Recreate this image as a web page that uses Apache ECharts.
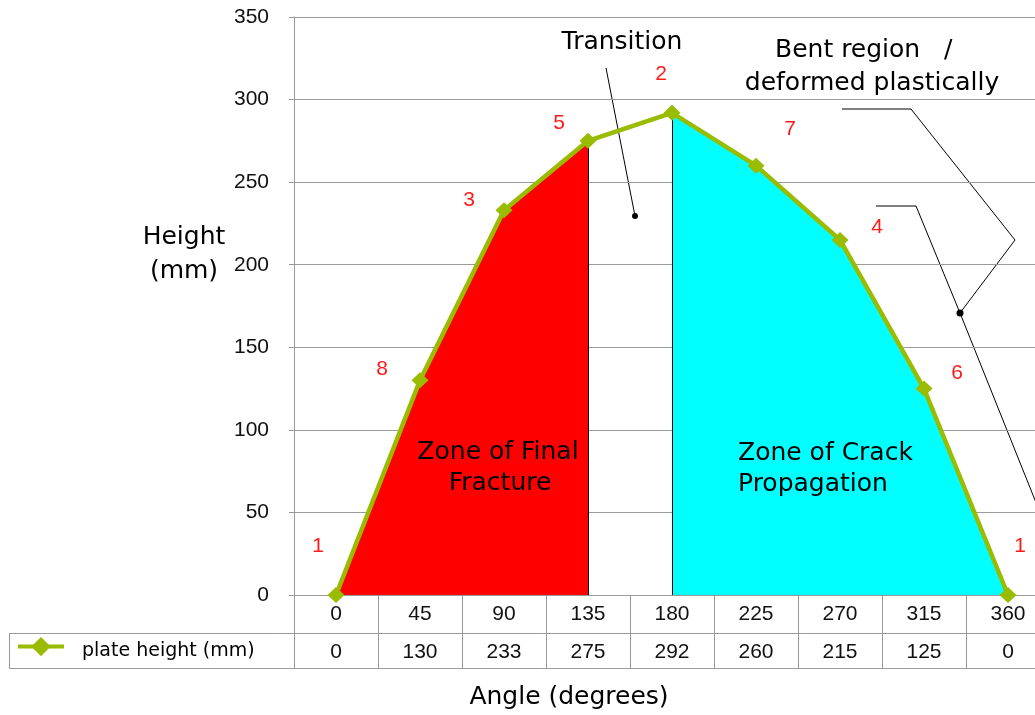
<!DOCTYPE html>
<html>
<head>
<meta charset="utf-8">
<script src="https://cdn.jsdelivr.net/npm/echarts@6/dist/echarts.min.js"></script>
<style>
html,body{margin:0;padding:0;background:#fff;overflow:hidden;width:1035px;height:715px;}
#chart{width:1070px;height:715px;}
</style>
</head>
<body>
<div id="chart"></div>
<script>
// ---- data ----
const angles = ['0','45','90','135','180','225','270','315','360'];
const heights = [0,130,233,275,292,260,215,125,0];
const pointOrder = ['1','8','3','5','2','7','4','6','1'];
const fractureZone = ['0','45','90','135'];
const crackZone = ['180','225','270','315','360'];
const yMin = 0, yMax = 350, yStep = 50;
const seriesName = 'plate height (mm)';

// ---- style ----
const labelOffsets = [[-18,-49],[-38,-11],[-35,-10],[-29,-18],[-11,-39],[34,-36],[37,-13],[33,-15],[12,-49]];
const GREEN = '#99bb00';
const GRID_GRAY = '#9a9a9a';
const NUM_FONT = "'Liberation Sans Narrow', 'Arial Narrow', 'Liberation Sans', sans-serif";
const TXT_FONT = "'DejaVu Sans', Verdana, sans-serif";

const zoneData = zone => angles.map((a, i) => zone.includes(a) ? heights[i] : null);
const fracEnd = fractureZone[fractureZone.length - 1];
const crackStart = crackZone[0];

const chart = echarts.init(document.getElementById('chart'), null, {renderer: 'canvas'});

const txt = (x, y, text, align, z) => ({
  type: 'text', x: x, y: y, z: z || 10,
  style: {text: text, font: '25px ' + TXT_FONT, fill: '#000', align: align || 'center', verticalAlign: 'middle'}
});

const option = {
  animation: false,
  backgroundColor: '#ffffff',
  grid: {left: 294, top: 17, width: 756, height: 578, containLabel: false},
  legend: {
    data: [seriesName],
    left: 16, top: 637, padding: 0,
    itemWidth: 46, itemHeight: 24,
    lineStyle: {width: 4},
    formatter: '{t|{name}}',
    textStyle: {
      fontFamily: TXT_FONT, fontSize: 19, color: '#000',
      rich: {t: {fontFamily: TXT_FONT, fontSize: 19, color: '#000', padding: [8, 0, 0, 13]}}
    }
  },
  xAxis: [
    {
      type: 'category', data: angles, boundaryGap: true, position: 'bottom',
      axisLine: {show: true, lineStyle: {color: GRID_GRAY, width: 1}},
      axisTick: {show: true, length: 38, interval: 0, lineStyle: {color: GRID_GRAY}},
      axisLabel: {interval: 0, margin: 19, verticalAlign: 'middle', fontFamily: NUM_FONT, fontSize: 21, color: '#111'},
      splitLine: {show: false}
    },
    {
      type: 'category', data: heights.map(String), boundaryGap: true, position: 'bottom', offset: 38,
      axisLine: {show: false},
      axisTick: {show: true, length: 35, interval: 0, lineStyle: {color: GRID_GRAY}},
      axisLabel: {interval: 0, margin: 19, verticalAlign: 'middle', fontFamily: NUM_FONT, fontSize: 21, color: '#111'},
      splitLine: {show: false}
    }
  ],
  yAxis: {
    type: 'value', min: yMin, max: yMax, interval: yStep,
    axisLine: {show: true, lineStyle: {color: GRID_GRAY}},
    axisTick: {show: true, length: 5, lineStyle: {color: GRID_GRAY}},
    axisLabel: {margin: 25, fontFamily: NUM_FONT, fontSize: 21, color: '#111'},
    splitLine: {show: true, lineStyle: {color: GRID_GRAY, width: 1}}
  },
  series: [
    {
      name: 'fracture', type: 'line', data: zoneData(fractureZone),
      symbol: 'none', lineStyle: {width: 0}, areaStyle: {color: '#ff0000', opacity: 1},
      z: 1, silent: true,
      markLine: {
        silent: true, symbol: 'none', label: {show: false},
        lineStyle: {color: '#000', width: 1, type: 'solid'},
        data: [
          [{coord: [fracEnd, 0]}, {coord: [fracEnd, heights[angles.indexOf(fracEnd)]]}],
          [{coord: [crackStart, 0]}, {coord: [crackStart, heights[angles.indexOf(crackStart)]]}]
        ]
      }
    },
    {
      name: 'crack', type: 'line', data: zoneData(crackZone),
      symbol: 'none', lineStyle: {width: 0}, areaStyle: {color: '#00ffff', opacity: 1},
      z: 1, silent: true
    },
    {
      name: seriesName, type: 'line', z: 5,
      data: heights.map((v, i) => ({
        value: v,
        label: {show: true, position: 'inside', formatter: pointOrder[i], offset: labelOffsets[i]}
      })),
      symbol: 'diamond', symbolSize: [17, 16],
      itemStyle: {color: GREEN},
      lineStyle: {color: GREEN, width: 4.5},
      label: {fontFamily: NUM_FONT, fontSize: 21, color: '#ff1a1a'}
    }
  ],
  graphic: [
    // data table frame
    {type: 'line', shape: {x1: 9, y1: 633.5, x2: 1070, y2: 633.5}, style: {stroke: GRID_GRAY, lineWidth: 1}, z: 10},
    {type: 'line', shape: {x1: 9, y1: 668.5, x2: 1070, y2: 668.5}, style: {stroke: GRID_GRAY, lineWidth: 1}, z: 10},
    {type: 'line', shape: {x1: 9.5, y1: 633, x2: 9.5, y2: 669}, style: {stroke: GRID_GRAY, lineWidth: 1}, z: 10},
    // axis titles
    txt(569, 697, 'Angle (degrees)'),
    txt(184, 237, 'Height'),
    txt(184, 271, '(mm)'),
    // annotations
    txt(622, 42, 'Transition'),
    {type: 'line', shape: {x1: 606, y1: 68, x2: 635, y2: 216}, style: {stroke: '#000', lineWidth: 1}},
    {type: 'circle', shape: {cx: 635, cy: 216, r: 3}, style: {fill: '#000'}},
    txt(775, 50, 'Bent region   /', 'left'),
    txt(872, 83, 'deformed plastically'),
    {type: 'polyline', shape: {points: [[842, 109], [911, 109], [1015, 240], [960, 313]]}, style: {stroke: '#000', lineWidth: 1, fill: null}},
    {type: 'polyline', shape: {points: [[876, 206], [916, 206], [960, 313], [1045, 525]]}, style: {stroke: '#000', lineWidth: 1, fill: null}},
    {type: 'circle', shape: {cx: 960, cy: 313, r: 3.5}, style: {fill: '#000'}},
    txt(498, 452, 'Zone of Final', 'center', 20),
    txt(500, 483, 'Fracture', 'center', 20),
    txt(738, 453, 'Zone of Crack', 'left', 20),
    txt(738, 484, 'Propagation', 'left', 20)
  ]
};
chart.setOption(option);
</script>
</body>
</html>
